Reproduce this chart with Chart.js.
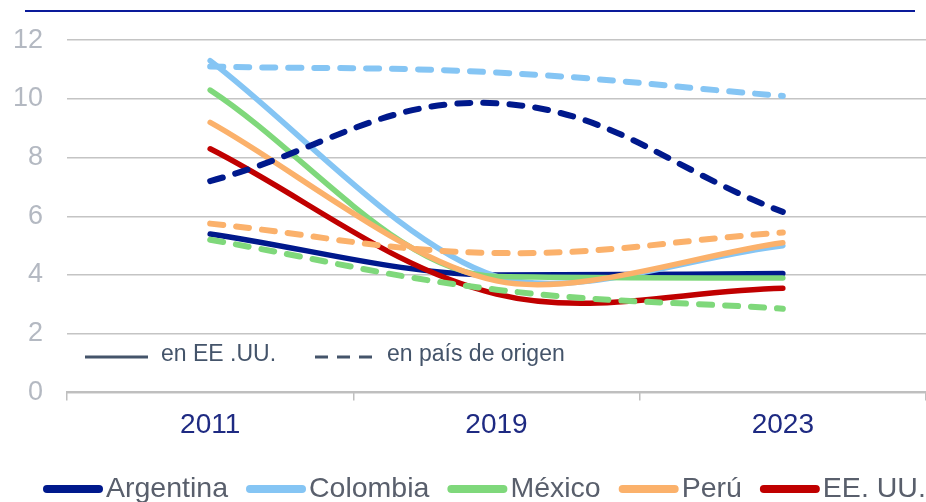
<!DOCTYPE html>
<html>
<head>
<meta charset="utf-8">
<script src="https://cdn.jsdelivr.net/npm/chart.js@4.4.1/dist/chart.umd.min.js"></script>
<style>
  html, body { margin: 0; padding: 0; background: #fff; }
  #wrap { width: 926px; height: 502px; }
</style>
</head>
<body>
<div id="wrap"><canvas id="chart" width="926" height="502"></canvas></div>
<script>
// data
const years = ["2011", "2019", "2023"];
const yTicks = [0, 2, 4, 6, 8, 10, 12];

// en EE.UU. (solid)
const argentinaUS = [5.4, 4.0, 4.05];
const colombiaUS = [11.3, 3.95, 5.0];
const mexicoUS = [10.3, 3.95, 3.9];
const peruUS = [9.2, 3.8, 5.1];
const eeuuUS = [8.3, 3.35, 3.55];

// en país de origen (dashed)
const argentinaOrigin = [7.2, 9.85, 6.15];
const colombiaOrigin = [11.1, 10.9, 10.1];
const mexicoOrigin = [5.2, 3.5, 2.85];
const peruOrigin = [5.75, 4.75, 5.45];

const countries = ["Argentina", "Colombia", "México", "Perú", "EE. UU."];
const colors = ["#00198c", "#85c5f4", "#7fd87b", "#fbb16b", "#c00000"];

const FONT = "'Liberation Sans', Arial, sans-serif";

// Excel-style smoothing differs a bit per series; flatten where the source is flat
function solid(i, data, mode, tension) {
  return {
    label: countries[i], data: data, borderColor: colors[i],
    borderWidth: 5.5, pointRadius: 0, tension: tension, fill: false,
    cubicInterpolationMode: mode, borderCapStyle: "round", order: 20 - i
  };
}
function dashed(i, data) {
  return {
    label: countries[i] + " origen", data: data, borderColor: colors[i],
    borderWidth: 6, pointRadius: 0, tension: 0.4, fill: false,
    borderDash: [13, 13], borderCapStyle: "round", order: 10 - i
  };
}

const extras = {
  id: "extras",
  afterDraw(chart) {
    const ctx = chart.ctx;
    ctx.save();
    // rule across the top
    ctx.strokeStyle = "#0a1a9a";
    ctx.lineWidth = 2;
    ctx.beginPath(); ctx.moveTo(25, 11); ctx.lineTo(915, 11); ctx.stroke();

    // line style key inside the plot
    ctx.strokeStyle = "#44546a";
    ctx.fillStyle = "#44546a";
    ctx.lineWidth = 3;
    ctx.beginPath(); ctx.moveTo(85, 357); ctx.lineTo(148, 357); ctx.stroke();
    ctx.setLineDash([13, 9]);
    ctx.beginPath(); ctx.moveTo(315, 357); ctx.lineTo(373, 357); ctx.stroke();
    ctx.setLineDash([]);
    ctx.font = "23px " + FONT;
    ctx.textBaseline = "middle";
    ctx.fillText("en EE .UU.", 161, 355);
    ctx.fillText("en país de origen", 387, 355);

    // country legend at the bottom
    ctx.font = "28.5px " + FONT;
    ctx.textBaseline = "alphabetic";
    ctx.fillStyle = "#595f6c";
    ctx.lineWidth = 8;
    ctx.lineCap = "round";
    let x = 43;
    countries.forEach((name, i) => {
      ctx.strokeStyle = colors[i];
      ctx.beginPath(); ctx.moveTo(x + 4, 489); ctx.lineTo(x + 56, 489); ctx.stroke();
      ctx.fillText(name, x + 63, 497);
      x += 63 + ctx.measureText(name).width + 18;
    });
    ctx.restore();
  }
};

new Chart(document.getElementById("chart").getContext("2d"), {
  type: "line",
  data: {
    labels: years,
    datasets: [
      solid(0, argentinaUS, "monotone", 0.4),
      solid(1, colombiaUS, "default", 0.3),
      solid(2, mexicoUS, "monotone", 0.4),
      solid(3, peruUS, "default", 0.3),
      solid(4, eeuuUS, "default", 0.35),
      dashed(0, argentinaOrigin), dashed(1, colombiaOrigin),
      dashed(2, mexicoOrigin), dashed(3, peruOrigin)
    ]
  },
  options: {
    responsive: false,
    animation: false,
    layout: { padding: { top: 40, right: 0, bottom: 52, left: 0 } },
    plugins: { legend: { display: false }, tooltip: { enabled: false } },
    scales: {
      x: {
        offset: true,
        grid: { offset: true, drawOnChartArea: false, drawTicks: true, tickLength: 8, color: "#bfbfbf", lineWidth: 1.5 },
        border: { display: true, color: "#bfbfbf", width: 2 },
        ticks: { color: "#1e2a82", font: { family: FONT, size: 28 }, padding: 8, maxRotation: 0 }
      },
      y: {
        min: 0, max: 12,
        afterBuildTicks(scale) { scale.ticks = yTicks.map(v => ({ value: v })); },
        afterFit(scale) { scale.width = 67; },
        grid: { color: "#c4c4c4", lineWidth: 1.5, drawTicks: false },
        border: { display: false },
        ticks: { color: "#b4b9c2", font: { family: FONT, size: 27 }, padding: 24 }
      }
    }
  },
  plugins: [extras]
});
</script>
</body>
</html>
